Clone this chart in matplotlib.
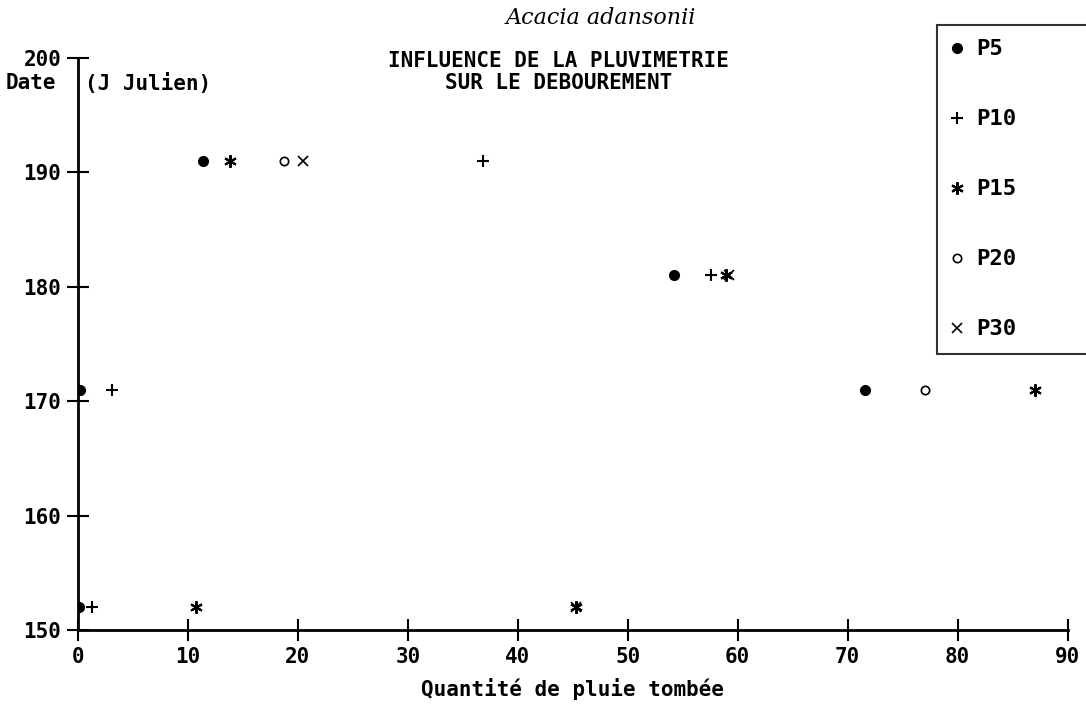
import matplotlib.pyplot as plt

# Quantité de pluie (x) et date de débourrement en jours juliens (y)
P5_X = [11.4, 54.2, 0.2, 0.1, 71.6]
P5_Y = [191, 181, 171, 152, 171]
P10_X = [36.8, 57.6, 3.1, 1.3]
P10_Y = [191, 181, 171, 152]
P15_X = [13.8, 58.9, 10.7, 45.3, 87.0]
P15_Y = [191, 181, 152, 152, 171]
P20_X = [18.7, 77.0]
P20_Y = [191, 171]
P30_X = [20.5, 59.2, 45.3]
P30_Y = [191, 181, 152]

X_TICKS = [0, 10, 20, 30, 40, 50, 60, 70, 80, 90]
Y_TICKS = [150, 160, 170, 180, 190, 200]

FONT = "DejaVu Sans Mono"

fig = plt.figure(figsize=(10.86, 7.13), dpi=100)
ax = fig.add_axes([0.0718, 0.1164, 0.9112, 0.8023])

ax.plot(P5_X, P5_Y, "o", color="black", markersize=7, label="P5", linestyle="none")
ax.plot(P10_X, P10_Y, "+", color="black", markersize=9, markeredgewidth=1.5, label="P10", linestyle="none")
ax.plot(P15_X, P15_Y, marker=(6, 2, 0), color="black", markersize=9, markeredgewidth=1.5, label="P15", linestyle="none")
ax.plot(P20_X, P20_Y, "o", color="black", fillstyle="none", markersize=6, markeredgewidth=1.2, label="P20", linestyle="none")
ax.plot(P30_X, P30_Y, "x", color="black", markersize=7, markeredgewidth=1.2, label="P30", linestyle="none")

ax.set_xlim(0, 90)
ax.set_ylim(150, 200)
ax.set_xticks(X_TICKS)
ax.set_yticks(Y_TICKS)
ax.spines["top"].set_visible(False)
ax.spines["right"].set_visible(False)
ax.spines["left"].set_linewidth(2)
ax.spines["bottom"].set_linewidth(2)
ax.tick_params(direction="inout", length=16, width=1.5, labelsize=15, pad=4)
for lbl in ax.get_xticklabels() + ax.get_yticklabels():
    lbl.set_fontfamily(FONT)
    lbl.set_fontweight("bold")

# Titres et libellés
fig.text(0.553, 0.975, "Acacia adansonii", ha="center", va="center",
         fontsize=16, style="italic", family="DejaVu Serif")
fig.text(0.514, 0.915, "INFLUENCE DE LA PLUVIMETRIE", ha="center", va="center",
         fontsize=15, family=FONT, fontweight="bold")
fig.text(0.514, 0.883, "SUR LE DEBOUREMENT", ha="center", va="center",
         fontsize=15, family=FONT, fontweight="bold")
fig.text(0.005, 0.883, "Date", ha="left", va="center",
         fontsize=15, family=FONT, fontweight="bold")
fig.text(0.078, 0.883, "(J Julien)", ha="left", va="center",
         fontsize=15, family=FONT, fontweight="bold")
ax.set_xlabel("Quantité de pluie tombée", fontsize=15, family=FONT,
              fontweight="bold", labelpad=8)

# Légende : cadre qui déborde à droite comme sur l'original
leg = fig.legend(loc="upper left", bbox_to_anchor=(0.863, 0.5, 0.2, 0.465),
                 mode="expand", borderaxespad=0,
                 prop={"family": FONT, "weight": "bold", "size": 16},
                 labelspacing=2.25, borderpad=0.65, handletextpad=0.6,
                 handlelength=0.5, fancybox=False, edgecolor="black")
leg.get_frame().set_linewidth(1.5)

fig.savefig("out.png", dpi=100)
